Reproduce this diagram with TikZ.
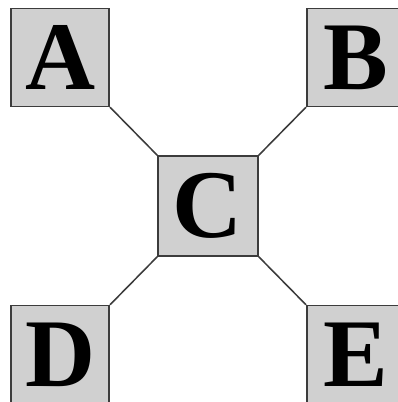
\documentclass[tikz,border=0pt]{standalone}
\usepackage{fontspec}
\setmainfont{Liberation Serif}
\usetikzlibrary{positioning}
\definecolor{boxfill}{HTML}{D0D0D0}
\definecolor{boxline}{HTML}{3C3C3C}
\begin{document}
\begin{tikzpicture}[node distance=1.2cm and 1.18cm]
        % Style Definitions
        \tikzstyle{letterbox} = [rectangle, draw=boxline, fill=boxfill, line width=1.1pt, minimum size=2.45cm, inner sep=0pt, font=\fontsize{69}{70}\selectfont\bfseries]
        \tikzstyle{link} = [draw=boxline, line width=1.1pt]

        \useasboundingbox (-5.2,5.15) rectangle (4.725,-4.9);

        % Nodes
        \node (c) [letterbox, minimum size=2.5cm] {C};
        \node (a) [letterbox, above left=of c] {A};
        \node (b) [letterbox, above right=of c] {B};
        \node (d) [letterbox, below left=of c] {D};
        \node (e) [letterbox, below right=of c] {E};

        % Links
        \draw[link] (a.south east) -- (c.north west);
        \draw[link] (b.south west) -- (c.north east);
        \draw[link] (d.north east) -- (c.south west);
        \draw[link] (e.north west) -- (c.south east);

    \end{tikzpicture}
\end{document}
